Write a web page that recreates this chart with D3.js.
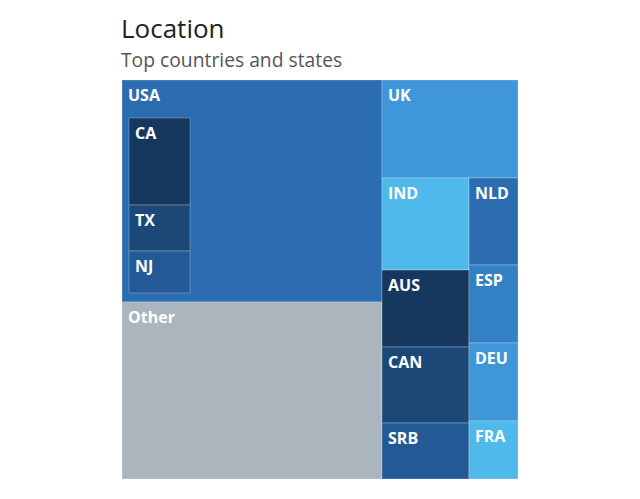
<!DOCTYPE html>
<html lang="en">
<head>
<meta charset="utf-8">
<script src="https://d3js.org/d3.v7.min.js"></script>
<style>
  body { margin: 0; background: #fff; font-family: "Open Sans", Lato, sans-serif; }
  .cell { stroke: #fff; stroke-opacity: .25; stroke-width: 1px; }
  .label { fill: #fff; font-weight: bold; font-size: 16px; }
  .title { fill: #222; font-size: 26px; }
  .subtitle { fill: #555; font-size: 19.3px; }
</style>
</head>
<body>
<script>
// share of all locations (%)
var countries = ["USA", "Other", "UK", "IND", "AUS", "CAN", "SRB", "NLD", "ESP", "DEU", "FRA"];
var shares = [36.53, 29.13, 8.44, 5.07, 4.24, 4.18, 3.08, 2.70, 2.42, 2.42, 1.80];

// top states, share of USA (%)
var states = ["CA", "TX", "NJ"];
var stateShares = [12.33, 6.52, 5.95];

var colors = {
  USA: "#2b6db0", Other: "#abb5bd", UK: "#3f97d9", IND: "#4fb9ec",
  AUS: "#16385f", CAN: "#1b4877", SRB: "#235a96", NLD: "#2b6db0",
  ESP: "#3480c4", DEU: "#3f97d9", FRA: "#4fb9ec",
  CA: "#16385f", TX: "#1b4877", NJ: "#235a96"
};

var width = 640, height = 499;
var margin = {left: 122, top: 80};
var mapW = 396, mapH = 399;

var svg = d3.select("body").append("svg")
  .attr("width", width)
  .attr("height", height);

svg.append("text").attr("class", "title").attr("x", margin.left - 1).attr("y", 38).text("Location");
svg.append("text").attr("class", "subtitle").attr("x", margin.left - 1).attr("y", 67).text("Top countries and states");

// build hierarchy: USA holds its states plus the unlabelled remainder
var usaVal = shares[countries.indexOf("USA")];
var usaKids = states.map(function(s, i) { return {name: s, value: stateShares[i] * usaVal / 100}; });
usaKids.push({name: "", rest: true, value: usaVal - d3.sum(usaKids, function(d) { return d.value; })});

var data = {
  name: "root",
  children: countries.map(function(c, i) {
    return c === "USA" ? {name: c, children: usaKids} : {name: c, value: shares[i]};
  })
};

// squarify-like tiling that picks row (top) or column (left) by best aspect ratio
function bestTile(parent, x0, y0, x1, y1) {
  var nodes = parent.children, value = parent.value, i0 = 0;
  while (i0 < nodes.length) {
    var dx = x1 - x0, dy = y1 - y0, best = null;
    [true, false].forEach(function(dice) {
      var sum = 0;
      for (var i = i0; i < nodes.length; i++) {
        sum += nodes[i].value;
        var thick = (dice ? dy : dx) * sum / value;
        var worst = 0;
        for (var j = i0; j <= i; j++) {
          var len = (dice ? dx : dy) * nodes[j].value / sum;
          worst = Math.max(worst, len / thick, thick / len);
        }
        if (!best || worst < best.worst) best = {worst: worst, dice: dice, i1: i + 1, sum: sum};
      }
    });
    var row = {value: best.sum, children: nodes.slice(i0, best.i1)};
    if (best.dice) d3.treemapDice(row, x0, y0, x1, y0 += dy * best.sum / value);
    else d3.treemapSlice(row, x0, y0, x0 += dx * best.sum / value, y1);
    value -= best.sum;
    i0 = best.i1;
  }
}

var root = d3.hierarchy(data).sum(function(d) { return d.children ? 0 : d.value; });

d3.treemap()
  .tile(bestTile)
  .size([mapW, mapH])
  .paddingTop(function(d) { return d.depth === 1 ? 38 : 0; })
  .paddingLeft(function(d) { return d.depth === 1 ? 7 : 0; })
  .paddingRight(function(d) { return d.depth === 1 ? 7 : 0; })
  .paddingBottom(function(d) { return d.depth === 1 ? 9 : 0; })
  .round(true)(root);

var g = svg.append("g").attr("transform", "translate(" + margin.left + "," + margin.top + ")");

var cells = g.selectAll("g.node")
  .data(root.descendants().filter(function(d) { return d.depth > 0 && !d.data.rest; }))
  .enter().append("g")
  .attr("class", "node")
  .attr("transform", function(d) { return "translate(" + d.x0 + "," + d.y0 + ")"; });

cells.append("rect")
  .attr("class", "cell")
  .attr("width", function(d) { return d.x1 - d.x0; })
  .attr("height", function(d) { return d.y1 - d.y0; })
  .attr("fill", function(d) { return colors[d.data.name]; });

cells.append("text")
  .attr("class", "label")
  .attr("x", 6)
  .attr("y", 21)
  .text(function(d) { return d.data.name; });
</script>
</body>
</html>
